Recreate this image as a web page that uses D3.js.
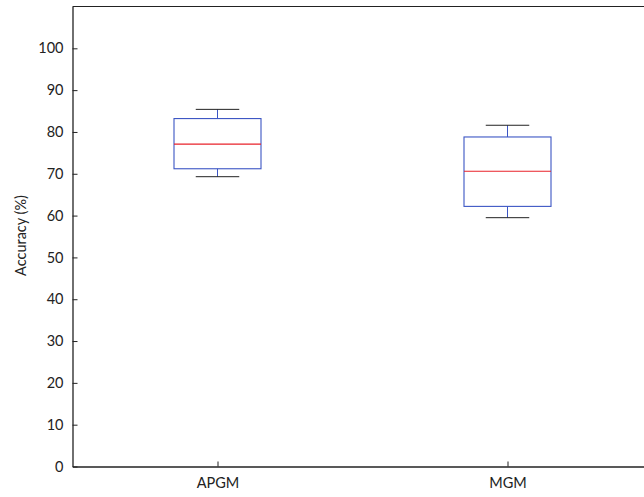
<!DOCTYPE html>
<html>
<head>
<meta charset="utf-8">
<script src="https://cdn.jsdelivr.net/npm/d3@7"></script>
<style>
  html, body { margin: 0; padding: 0; background: #fff; }
  svg text { font-family: Lato, "Open Sans", sans-serif; fill: #222; }
</style>
</head>
<body>
<svg id="chart" width="644" height="497"></svg>
<script>
// Box plot summary per method
const methods = ["APGM", "MGM"];
const lowerWhisker = [69.3, 59.5];
const q1 = [71.2, 62.2];
const median = [77.1, 70.6];
const q3 = [83.2, 78.8];
const upperWhisker = [85.4, 81.6];
const yTicks = [0, 10, 20, 30, 40, 50, 60, 70, 80, 90, 100];

const svg = d3.select("#chart");
const plotLeft = 72.5, plotBottom = 466.5, plotTop = 6.5, plotRight = 652.5;

const x = d3.scaleLinear().domain([0.5, 2.5]).range([plotLeft, plotRight]);
const y = d3.scaleLinear().domain([0, 110]).range([plotBottom, plotTop]);

const boxW = 0.3, capW = 0.15;
const fontSize = 14.5;

// frame top edge
svg.append("line").attr("x1", plotLeft).attr("x2", 644).attr("y1", plotTop).attr("y2", plotTop)
  .attr("stroke", "#222").attr("stroke-width", 1.2);

// y axis
const yAxis = d3.axisLeft(y).tickValues(yTicks).tickSizeInner(-5).tickSizeOuter(0).tickPadding(9);
const gy = svg.append("g").attr("transform", `translate(${plotLeft},0)`).call(yAxis);
gy.select(".domain").attr("stroke", "#222").attr("stroke-width", 1.3);
gy.selectAll(".tick line").attr("stroke", "#222");
gy.selectAll("text").attr("font-size", fontSize).attr("fill", "#222");

// x axis
const xAxis = d3.axisBottom(x).tickValues([1, 2]).tickFormat((d, i) => methods[i])
  .tickSizeInner(-5).tickSizeOuter(0).tickPadding(11);
const gx = svg.append("g").attr("transform", `translate(0,${plotBottom})`).call(xAxis);
gx.select(".domain").attr("stroke", "#222").attr("stroke-width", 1.3);
gx.selectAll(".tick line").attr("stroke", "#222");
gx.selectAll("text").attr("font-size", fontSize).attr("fill", "#222");

// y label
svg.append("text")
  .attr("transform", `translate(26,${y(55) - 1}) rotate(-90)`)
  .attr("text-anchor", "middle")
  .attr("font-size", fontSize)
  .text("Accuracy (%)");

const blue = "#3b55c4";
methods.forEach((m, i) => {
  const c = i + 1;
  const g = svg.append("g");
  // whisker stems
  g.append("line").attr("x1", x(c)).attr("x2", x(c)).attr("y1", y(upperWhisker[i])).attr("y2", y(q3[i]))
    .attr("stroke", blue).attr("stroke-width", 1);
  g.append("line").attr("x1", x(c)).attr("x2", x(c)).attr("y1", y(q1[i])).attr("y2", y(lowerWhisker[i]))
    .attr("stroke", blue).attr("stroke-width", 1);
  // caps
  [upperWhisker[i], lowerWhisker[i]].forEach(v => {
    g.append("line").attr("x1", x(c - capW / 2)).attr("x2", x(c + capW / 2))
      .attr("y1", y(v)).attr("y2", y(v)).attr("stroke", "#222").attr("stroke-width", 1);
  });
  // box
  g.append("rect")
    .attr("x", x(c - boxW / 2)).attr("width", x(c + boxW / 2) - x(c - boxW / 2))
    .attr("y", y(q3[i])).attr("height", y(q1[i]) - y(q3[i]))
    .attr("fill", "none").attr("stroke", blue).attr("stroke-width", 1.1);
  // median
  g.append("line").attr("x1", x(c - boxW / 2)).attr("x2", x(c + boxW / 2))
    .attr("y1", y(median[i])).attr("y2", y(median[i]))
    .attr("stroke", "#e8222a").attr("stroke-width", 1.1);
});
</script>
</body>
</html>
